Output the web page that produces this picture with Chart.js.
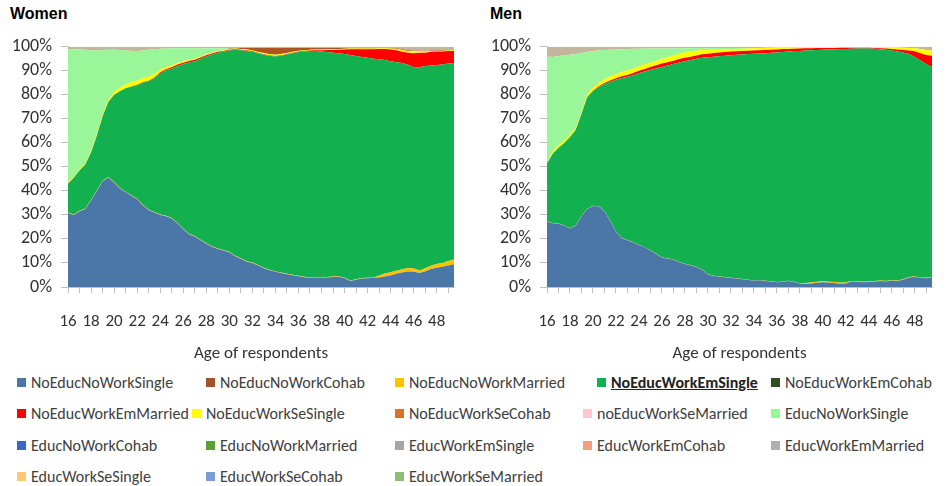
<!DOCTYPE html>
<html>
<head>
<meta charset="utf-8">
<script src="https://cdn.jsdelivr.net/npm/chart.js@4.4.1/dist/chart.umd.min.js"></script>
<style>
  body { margin: 0; width: 948px; height: 486px; background: #fff; position: relative; overflow: hidden;
         font-family: Carlito, "Liberation Sans Narrow", "Open Sans", sans-serif; }
  .panel-title { position: absolute; top: 5px; font: bold 16px "Liberation Sans", Arial, sans-serif; color: #000; }
  .wrap { position: absolute; top: 27px; height: 345px; }
  #legend .item { position: absolute; white-space: nowrap; font-size: 16px; color: #404040; line-height: 20px; }
  #legend .sw { display: inline-block; width: 9px; height: 9px; margin-right: 5px; vertical-align: 1px; }
  #legend .hl { font-weight: bold; text-decoration: underline; color: #222; }
</style>
</head>
<body>
<div class="panel-title" style="left:10px">Women</div>
<div class="panel-title" style="left:490px">Men</div>
<div class="wrap" style="left:0;width:470px"><canvas id="women" width="470" height="345"></canvas></div>
<div class="wrap" style="left:470px;width:478px"><canvas id="men" width="478" height="345"></canvas></div>
<div id="legend"></div>

<script>
// ages at half-year steps
const ages = [16,16.5,17,17.5,18,18.5,19,19.5,20,20.5,21,21.5,22,22.5,23,23.5,24,24.5,25,25.5,26,26.5,27,27.5,28,28.5,29,29.5,30,30.5,31,31.5,32,32.5,33,33.5,34,34.5,35,35.5,36,36.5,37,37.5,38,38.5,39,39.5,40,40.5,41,41.5,42,42.5,43,43.5,44,44.5,45,45.5,46,46.5,47,47.5,48,48.5,49,49.5];

const seriesNames = ['NoEducNoWorkSingle','NoEducNoWorkCohab','NoEducNoWorkMarried','NoEducWorkEmSingle','NoEducWorkEmCohab',
  'NoEducWorkEmMarried','NoEducWorkSeSingle','NoEducWorkSeCohab','noEducWorkSeMarried','EducNoWorkSingle',
  'EducNoWorkCohab','EducNoWorkMarried','EducWorkEmSingle','EducWorkEmCohab','EducWorkEmMarried',
  'EducWorkSeSingle','EducWorkSeCohab','EducWorkSeMarried'];
const seriesColors = ['#4a76a8','#a0522d','#ffc000','#12b04f','#2f4f1f',
  '#ff0000','#ffff00','#d9722e','#ffc7ce','#99f799',
  '#3a66c4','#5e9e3a','#a6a6a6','#f0a07c','#b0b0b0',
  '#ffc870','#7b9ad6','#8fbf75'];

// Women (percent of respondents per state)
const womenNoEducNoWorkSingle = [30.8,30.0,31.5,32.5,36,40,44,45.5,43.5,41,39.5,38,36.5,34,32,31,30,29.5,28.5,26.5,24,22,21,19.5,18,16.8,15.8,15.2,14.5,12.8,11.8,10.5,10,9,7.8,7,6.3,5.8,5.3,4.9,4.5,4.1,3.9,3.8,3.8,4.0,4.2,4.3,3.6,2.5,3.0,3.5,3.6,3.8,4.0,4.4,4.8,5.5,6.0,6.5,6.3,5.8,6.5,7.5,8.0,8.4,9.0,9.5];
const womenNoEducNoWorkMarried = [0.2,0.2,0.2,0.2,0.2,0.2,0.2,0.2,0.2,0.2,0.2,0.2,0.2,0.2,0.2,0.2,0.2,0.2,0.2,0.2,0.2,0.2,0.2,0.2,0.2,0.2,0.2,0.2,0.2,0.2,0.2,0.2,0.2,0.2,0.2,0.2,0.2,0.2,0.2,0.2,0.2,0.2,0.2,0.2,0.2,0.2,0.2,0.2,0.2,0.2,0.2,0.2,0.2,0.2,0.8,1.2,1.3,1.3,1.4,1.4,1.4,1.1,1.3,1.3,1.6,1.6,1.8,2.0];
const womenNoEducWorkEmSingle = [12.0,15.3,16.8,18.3,19.8,22.8,26.8,31.3,36.3,40.3,43.0,45.3,47.3,50.8,53.5,55.8,58.8,60.5,62.3,65.3,68.6,71.3,72.8,75.3,77.8,79.8,81.5,82.6,83.8,85.8,86.6,87.6,87.8,88.0,88.7,89.0,89.5,90.3,91.3,92.2,93.1,93.7,94.1,94.2,94.0,93.6,93.1,92.8,93.2,93.9,93.0,92.1,91.6,91.0,90.0,88.9,87.9,86.8,85.9,84.6,83.8,84.6,84.2,83.4,82.8,82.6,82.2,81.8];
const womenNoEducWorkEmMarried = [0,0,0,0,0,0,0,0,0,0,0,0,0.2,0.2,0.2,0.2,0.4,0.5,0.5,0.6,0.6,0.6,0.6,0.5,0.5,0.4,0.4,0.3,0.3,0.2,0.2,0.2,0.2,0.2,0.2,0.2,0.2,0.2,0.2,0.2,0.2,0.2,0.3,0.4,0.6,0.9,1.2,1.5,1.9,2.4,2.8,3.2,3.6,4.0,4.3,4.6,4.9,5.0,4.6,5.0,5.8,6.0,5.5,5.7,5.6,5.4,5.2,5.0];
const womenNoEducWorkSeSingle = [0.3,0.3,0.4,0.5,0.6,0.7,0.8,1.0,1.3,1.5,1.6,1.8,1.8,1.8,1.7,1.5,1.2,0.9,0.8,0.7,0.6,0.5,0.5,0.4,0.4,0.3,0.3,0.3,0.3,0.3,0.3,0.4,0.4,0.4,0.5,0.5,0.5,0.5,0.4,0.4,0.4,0.3,0.3,0.3,0.3,0.3,0.3,0.3,0.3,0.3,0.3,0.3,0.3,0.3,0.3,0.3,0.4,0.6,0.8,0.8,0.8,0.6,0.5,0.4,0.3,0.3,0.3,0.3];
const womenNoEducWorkSeCohab = [0,0,0,0,0,0,0,0,0,0,0,0,0,0,0,0,0,0,0,0,0,0,0,0,0,0,0,0,0.2,0.2,0.4,0.6,0.9,1.7,2.1,2.6,2.8,2.5,2.1,1.6,1.1,1.0,0.7,0.6,0.6,0.5,0.5,0.4,0.3,0.2,0.2,0.2,0.2,0.2,0.1,0.1,0.2,0.3,0.3,0.3,0.3,0.3,0.3,0.2,0.2,0.2,0.2,0.2];
const womenEducNoWorkSingle = [55.7,53.2,50.1,47.3,41.9,34.8,26.9,20.8,17.5,15.7,14.2,13.0,12.2,11.5,11.2,10.3,8.6,7.7,7.1,6.1,5.4,4.8,4.3,3.5,2.5,1.9,1.2,0.8,0.2,0,0,0,0,0,0,0,0,0,0,0,0,0,0,0,0,0,0,0,0,0,0,0,0,0,0,0,0,0,0,0,0,0,0,0,0,0,0,0];
const womenEducWorkEmSingle = [1.0,1.0,1.0,1.2,1.5,1.5,1.3,1.2,1.2,1.3,1.5,1.7,1.8,1.5,1.2,1.0,0.8,0.7,0.6,0.6,0.6,0.6,0.6,0.6,0.6,0.6,0.6,0.6,0.5,0.5,0.5,0.5,0.5,0.5,0.5,0.5,0.5,0.5,0.5,0.5,0.5,0.5,0.5,0.5,0.5,0.5,0.5,0.5,0.5,0.5,0.5,0.5,0.5,0.5,0.5,0.5,0.5,0.5,1.0,1.4,1.6,1.6,1.7,1.5,1.5,1.5,1.3,1.2];

// Men
const menNoEducNoWorkSingle = [27.2,26.5,26.3,25.5,24.4,25.5,29.5,32.5,33.7,33.5,31.5,27.5,23,20.3,19.5,18.5,17.5,16.5,15.2,13.7,12.3,11.8,11.5,10.3,9.6,9.0,8.3,7.2,5.2,4.6,4.3,4.1,3.7,3.5,3.2,2.9,2.7,2.8,2.5,2.3,2.0,2.1,2.5,2.2,1.4,1.3,1.5,1.8,2.0,1.8,1.7,1.4,1.5,2.3,2.2,2.0,2.1,2.3,2.5,2.3,2.7,2.5,3.0,4.0,4.2,3.8,3.6,4.1];
const menNoEducNoWorkMarried = [0.1,0.1,0.1,0.1,0.1,0.1,0.1,0.1,0.1,0.1,0.1,0.1,0.1,0.1,0.1,0.1,0.1,0.1,0.1,0.1,0.1,0.1,0.1,0.1,0.1,0.1,0.1,0.1,0.1,0.1,0.1,0.1,0.1,0.1,0.1,0.1,0.1,0.1,0.1,0.1,0.1,0.1,0.1,0.1,0.1,0.4,0.4,0.4,0.4,0.4,0.4,0.4,0.4,0.2,0.2,0.2,0.2,0.2,0.2,0.2,0.2,0.2,0.2,0.2,0.2,0.2,0.2,0.2];
const menNoEducWorkEmSingle = [24.2,28.9,31.6,34.4,38.0,39.9,42.4,46.4,47.7,49.7,52.9,57.9,63.2,66.6,67.9,69.6,71.4,73.1,75.1,77.2,79.2,80.3,81.2,83.1,84.3,85.4,86.6,88.1,90.3,91.2,91.7,92.1,92.7,93.1,93.5,94.0,94.3,94.3,94.7,95.1,95.5,95.6,95.4,95.9,96.8,96.8,96.7,96.5,96.4,96.7,96.9,97.3,97.2,96.7,96.9,97.1,97.0,96.7,96.3,96.3,95.6,95.3,94.4,92.8,91.4,90.3,89.0,87.2];
const menNoEducWorkEmMarried = [0,0,0,0,0,0,0,0.1,0.2,0.3,0.4,0.5,0.6,0.7,0.8,0.9,1.0,1.1,1.2,1.3,1.4,1.4,1.4,1.4,1.4,1.4,1.4,1.5,1.5,1.5,1.5,1.5,1.5,1.4,1.4,1.4,1.4,1.4,1.4,1.3,1.3,1.3,1.1,1.0,1.0,0.9,0.8,0.8,0.7,0.6,0.5,0.5,0.5,0.4,0.3,0.3,0.3,0.3,0.4,0.5,0.6,0.9,1.1,1.5,2.3,3.0,3.8,4.8];
const menNoEducWorkSeSingle = [0.6,0.8,1.0,1.0,1.0,0.9,0.9,1.0,1.2,1.4,1.6,1.7,1.7,1.8,1.8,1.8,1.8,1.8,1.8,1.8,1.8,2.0,2.1,2.2,2.3,2.2,2.0,1.8,1.6,1.4,1.3,1.2,1.1,1.0,1.0,0.9,0.9,0.9,0.9,0.8,0.8,0.8,0.6,0.5,0.5,0.4,0.4,0.3,0.3,0.3,0.3,0.2,0.2,0.2,0.2,0.2,0.2,0.3,0.4,0.5,0.7,0.8,0.9,1.0,1.3,1.8,2.1,2.2];
const menEducNoWorkSingle = [43.9,39.5,37.2,35.4,33.2,30.6,24.5,17.7,15.3,13.5,12.2,11.1,10.3,9.5,9.0,8.3,7.4,6.7,5.9,5.2,4.5,3.7,3.0,2.3,1.7,1.3,1.0,0.7,0.7,0.7,0.6,0.5,0.4,0.4,0.3,0.2,0.1,0,0,0,0,0,0,0,0,0,0,0,0,0,0,0,0,0,0,0,0,0,0,0,0,0,0,0,0,0,0,0];
const menEducWorkEmSingle = [4.0,4.2,3.8,3.6,3.3,3.0,2.6,2.2,1.8,1.5,1.3,1.2,1.1,1.0,0.9,0.8,0.8,0.7,0.7,0.7,0.7,0.7,0.7,0.6,0.6,0.6,0.6,0.6,0.6,0.5,0.5,0.5,0.5,0.5,0.5,0.5,0.5,0.5,0.4,0.4,0.3,0.1,0.3,0.3,0.2,0.2,0.2,0.2,0.2,0.2,0.2,0.2,0.2,0.2,0.2,0.2,0.2,0.2,0.2,0.2,0.2,0.3,0.4,0.5,0.6,0.9,1.3,1.5];

const FONT = 'Carlito, "Liberation Sans Narrow", "Open Sans", sans-serif';
const AXIS = '#bfbfbf';
const TEXT = '#333';

// area fills that differ a little from the legend swatch
const areaFill = { EducWorkEmSingle: '#c4b69e', NoEducWorkSeCohab: '#ad5420' };
const colorOf = name => areaFill[name] || seriesColors[seriesNames.indexOf(name)];

const womenSeries = [
    ['NoEducNoWorkSingle', womenNoEducNoWorkSingle],
    ['NoEducNoWorkMarried', womenNoEducNoWorkMarried],
    ['NoEducWorkEmSingle', womenNoEducWorkEmSingle],
    ['NoEducWorkEmMarried', womenNoEducWorkEmMarried],
    ['NoEducWorkSeSingle', womenNoEducWorkSeSingle],
    ['NoEducWorkSeCohab', womenNoEducWorkSeCohab],
    ['EducNoWorkSingle', womenEducNoWorkSingle],
    ['EducWorkEmSingle', womenEducWorkEmSingle],
];
const menSeries = [
    ['NoEducNoWorkSingle', menNoEducNoWorkSingle],
    ['NoEducNoWorkMarried', menNoEducNoWorkMarried],
    ['NoEducWorkEmSingle', menNoEducWorkEmSingle],
    ['NoEducWorkEmMarried', menNoEducWorkEmMarried],
    ['NoEducWorkSeSingle', menNoEducWorkSeSingle],
    ['EducNoWorkSingle', menEducNoWorkSingle],
    ['EducWorkEmSingle', menEducWorkEmSingle],
];

const makeChart = (id, series, yWidth, padTop, padRight) => {
    return new Chart(document.getElementById(id), {
        type: 'line',
        data: {
            datasets: series.map(([name, values], i) => ({
                label: name,
                data: ages.map((a, k) => ({ x: a, y: values[k] })),
                backgroundColor: colorOf(name),
                borderColor: 'rgba(0,0,0,0)',
                borderWidth: 0,
                pointRadius: 0,
                tension: 0,
                fill: i === 0 ? 'origin' : '-1'
            }))
        },
        options: {
            responsive: false,
            animation: false,
            devicePixelRatio: 1,
            layout: { padding: { top: padTop, right: padRight, left: 0, bottom: 0 } },
            plugins: { legend: { display: false }, tooltip: { enabled: false } },
            scales: {
                x: {
                    type: 'linear', min: 16, max: 49.5,
                    afterFit: s => { s.height = 85; },
                    border: { color: AXIS },
                    grid: { drawOnChartArea: false, tickLength: 6, color: AXIS },
                    ticks: {
                        stepSize: 1, autoSkip: false, maxRotation: 0, includeBounds: false,
                        padding: 19, color: TEXT, font: { family: FONT, size: 17 },
                        callback: v => (v % 2 === 0 && v <= 48) ? String(v) : ''
                    },
                    title: { display: true, text: 'Age of respondents', color: TEXT,
                             font: { family: FONT, size: 17 }, padding: { top: 0, bottom: 8 } }
                },
                y: {
                    stacked: true, min: 0, max: 100,
                    afterFit: s => { s.width = yWidth; },
                    border: { color: AXIS },
                    grid: { drawOnChartArea: false, tickLength: 7, color: AXIS },
                    ticks: { stepSize: 10, autoSkip: false, padding: 9, color: TEXT,
                             font: { family: FONT, size: 18 }, callback: v => v + '%' }
                }
            }
        }
    });
};

makeChart('women', womenSeries, 68, 10, 16);
makeChart('men', menSeries, 77, 11, 16);

// legend laid out like the original (Excel flow)
const legendX = [17,206,395,597,771, 17,192,395,583,771, 17,206,395,583,771, 17,206,395];
const legendRowTop = [373, 404, 436, 467];
const legend = document.getElementById('legend');
seriesNames.forEach((name, i) => {
    const item = document.createElement('div');
    item.className = 'item';
    item.style.left = legendX[i] + 'px';
    item.style.top = legendRowTop[Math.floor(i / 5)] + 'px';
    const cls = name === 'NoEducWorkEmSingle' ? ' class="hl"' : '';
    item.innerHTML = `<span class="sw" style="background:${seriesColors[i]}"></span><span${cls}>${name}</span>`;
    legend.appendChild(item);
});
</script>
</body>
</html>
